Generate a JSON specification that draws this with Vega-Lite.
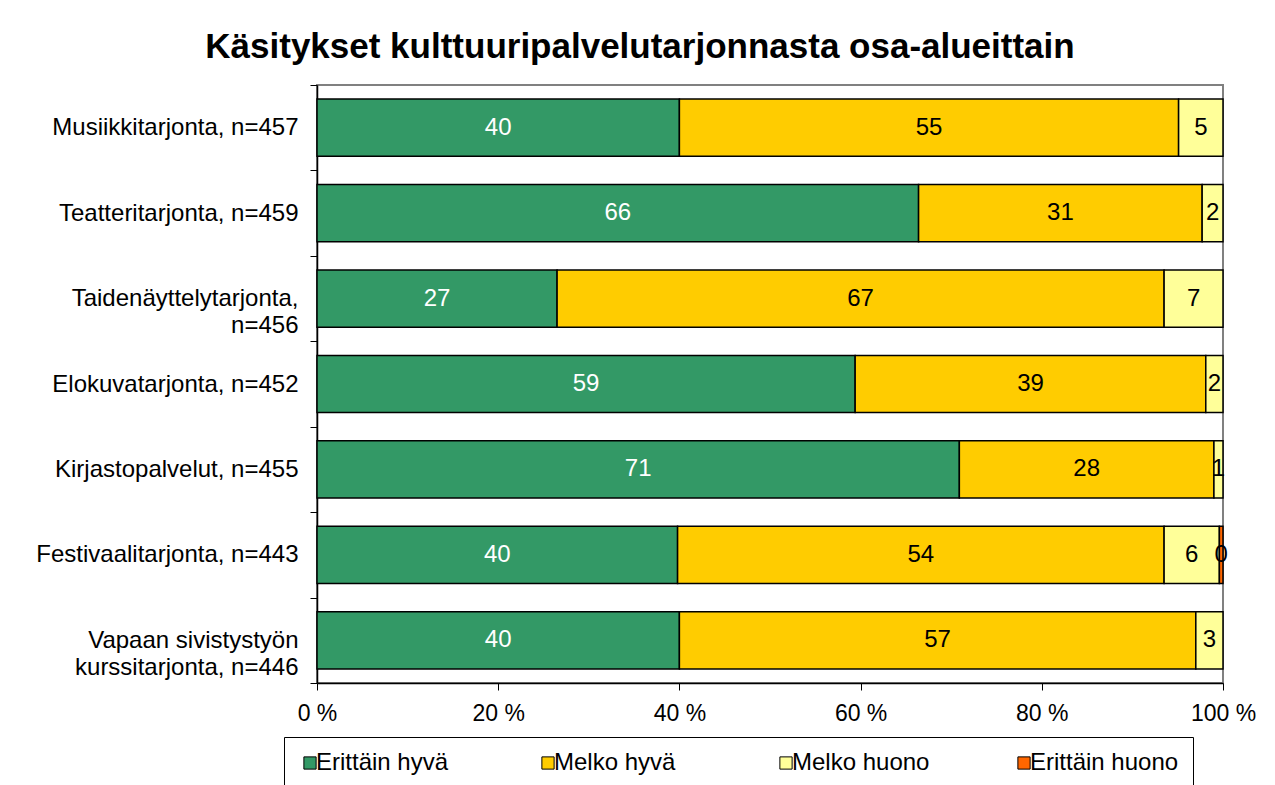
{
  "$schema": "https://vega.github.io/schema/vega-lite/v6.json",
  "width": 906,
  "height": 598,
  "autosize": {"type": "none"},
  "padding": {"left": 317, "top": 85, "right": 52, "bottom": 102},
  "background": "white",
  "title": {
    "text": "Käsitykset kulttuuripalvelutarjonnasta osa-alueittain",
    "font": "Liberation Sans",
    "fontSize": 35,
    "fontWeight": "bold",
    "color": "black",
    "anchor": "middle",
    "dx": -130,
    "offset": 8
  },
  "config": {
    "view": {"stroke": "#808080", "strokeWidth": 2},
    "font": "Liberation Sans"
  },
  "data": {
    "values": [
      {"item": "Musiikkitarjonta, n=457", "cat": "Erittäin hyvä", "value": 40.0},
      {"item": "Musiikkitarjonta, n=457", "cat": "Melko hyvä", "value": 55.1},
      {"item": "Musiikkitarjonta, n=457", "cat": "Melko huono", "value": 4.9},
      {"item": "Teatteritarjonta, n=459", "cat": "Erittäin hyvä", "value": 66.4},
      {"item": "Teatteritarjonta, n=459", "cat": "Melko hyvä", "value": 31.3},
      {"item": "Teatteritarjonta, n=459", "cat": "Melko huono", "value": 2.3},
      {"item": "Taidenäyttelytarjonta,|n=456", "cat": "Erittäin hyvä", "value": 26.5},
      {"item": "Taidenäyttelytarjonta,|n=456", "cat": "Melko hyvä", "value": 67.0},
      {"item": "Taidenäyttelytarjonta,|n=456", "cat": "Melko huono", "value": 6.5},
      {"item": "Elokuvatarjonta, n=452", "cat": "Erittäin hyvä", "value": 59.4},
      {"item": "Elokuvatarjonta, n=452", "cat": "Melko hyvä", "value": 38.7},
      {"item": "Elokuvatarjonta, n=452", "cat": "Melko huono", "value": 1.9},
      {"item": "Kirjastopalvelut, n=455", "cat": "Erittäin hyvä", "value": 70.9},
      {"item": "Kirjastopalvelut, n=455", "cat": "Melko hyvä", "value": 28.1},
      {"item": "Kirjastopalvelut, n=455", "cat": "Melko huono", "value": 1.0},
      {"item": "Festivaalitarjonta, n=443", "cat": "Erittäin hyvä", "value": 39.8},
      {"item": "Festivaalitarjonta, n=443", "cat": "Melko hyvä", "value": 53.7},
      {"item": "Festivaalitarjonta, n=443", "cat": "Melko huono", "value": 6.1},
      {"item": "Festivaalitarjonta, n=443", "cat": "Erittäin huono", "value": 0.4},
      {"item": "Vapaan sivistystyön|kurssitarjonta, n=446", "cat": "Erittäin hyvä", "value": 40.0},
      {"item": "Vapaan sivistystyön|kurssitarjonta, n=446", "cat": "Melko hyvä", "value": 57.0},
      {"item": "Vapaan sivistystyön|kurssitarjonta, n=446", "cat": "Melko huono", "value": 3.0}
    ]
  },
  "transform": [
    {"calculate": "indexof(['Erittäin hyvä','Melko hyvä','Melko huono','Erittäin huono'], datum.cat)", "as": "k"},
    {"stack": "value", "groupby": ["item"], "offset": "normalize", "sort": [{"field": "k", "order": "ascending"}], "as": ["v0", "v1"]},
    {"calculate": "(datum.v0 + datum.v1) / 2", "as": "vm"}
  ],
  "encoding": {
    "y": {
      "field": "item",
      "type": "nominal",
      "sort": null,
      "title": null,
      "scale": {"paddingInner": 0, "paddingOuter": 0},
      "axis": {
        "labelExpr": "split(datum.label, '|')",
        "labelFont": "Liberation Sans",
        "labelFontSize": 24,
        "labelColor": "black",
        "labelPadding": 12,
        "labelLimit": 400,
        "labelLineHeight": 27,
        "tickBand": "extent",
        "tickSize": 7,
        "tickColor": "black",
        "domainColor": "black",
        "domainWidth": 1.5
      }
    }
  },
  "layer": [
    {
      "mark": {"type": "bar", "stroke": "black", "strokeWidth": 1.5, "height": {"band": 0.67}},
      "encoding": {
        "x": {
          "field": "v0",
          "type": "quantitative",
          "scale": {"domain": [0, 1], "nice": false},
          "title": null,
          "axis": {
            "values": [0, 0.2, 0.4, 0.6, 0.8, 1],
            "labelExpr": "round(datum.value * 100) + ' %'",
            "labelFont": "Liberation Sans",
            "labelFontSize": 23,
            "labelColor": "black",
            "labelPadding": 12,
            "tickSize": 7,
            "tickColor": "black",
            "domainColor": "black",
            "domainWidth": 1.5,
            "grid": false,
            "labelFlush": false
          }
        },
        "x2": {"field": "v1"},
        "color": {
          "field": "cat",
          "type": "nominal",
          "scale": {
            "domain": ["Erittäin hyvä", "Melko hyvä", "Melko huono", "Erittäin huono"],
            "range": ["#339966", "#FFCC00", "#FFFF99", "#FF6600"]
          },
          "legend": {
            "title": null,
            "orient": "none",
            "direction": "horizontal",
            "columns": 4,
            "gridAlign": "all",
            "legendX": -33,
            "legendY": 652,
            "padding": 14,
            "strokeColor": "black",
            "fillColor": "white",
            "symbolType": "square",
            "symbolSize": 150,
            "symbolStrokeColor": "black",
            "symbolStrokeWidth": 1,
            "symbolOpacity": 1,
            "labelFont": "Liberation Sans",
            "labelFontSize": 24,
            "labelColor": "black",
            "labelOffset": -6,
            "labelLimit": 300,
            "columnPadding": 71
          }
        }
      }
    },
    {
      "mark": {"type": "text", "font": "Liberation Sans", "fontSize": 24, "baseline": "middle", "align": "center"},
      "encoding": {
        "x": {"field": "vm", "type": "quantitative"},
        "text": {"field": "value", "type": "quantitative", "format": ".0f"},
        "color": {
          "condition": {"test": "datum.cat === 'Erittäin hyvä'", "value": "white"},
          "value": "black"
        }
      }
    }
  ]
}
